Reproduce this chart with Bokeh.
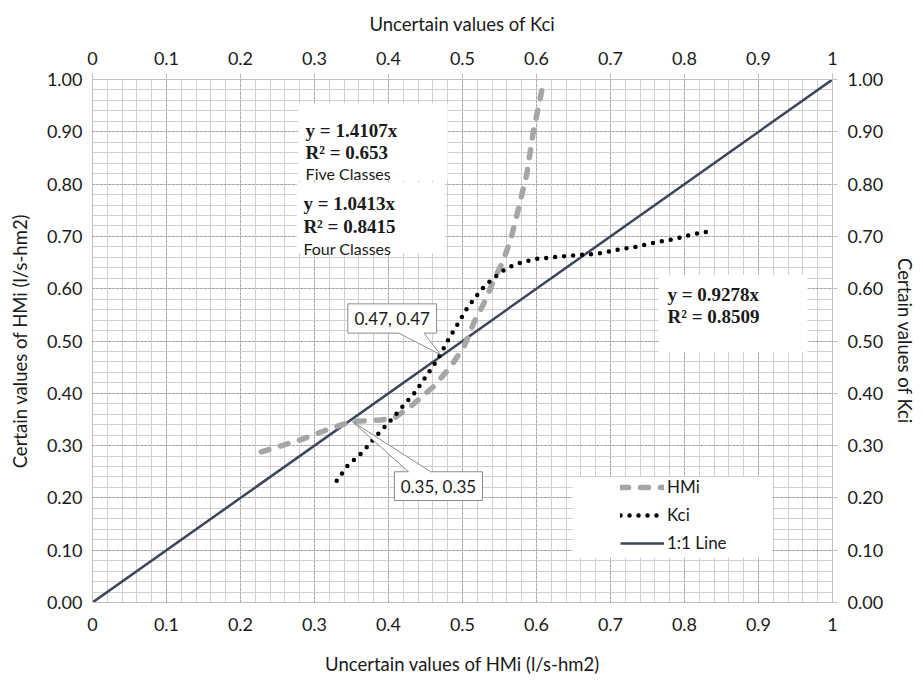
from bokeh.plotting import figure
from bokeh.models import (Range1d, LinearAxis, FixedTicker, NumeralTickFormatter,
                          Legend, LegendItem, ColumnDataSource)
from bokeh.core.properties import value
from bokeh.embed import file_html
from bokeh.resources import INLINE

# ---------------- data ----------------
hmi_x = [0.228, 0.281, 0.322, 0.351, 0.389, 0.407, 0.430, 0.461, 0.484, 0.502,
         0.515, 0.531, 0.542, 0.554, 0.565, 0.574, 0.587, 0.596, 0.603, 0.610]
hmi_y = [0.288, 0.311, 0.333, 0.346, 0.349, 0.352, 0.375, 0.413, 0.451, 0.489,
         0.534, 0.578, 0.616, 0.650, 0.693, 0.744, 0.820, 0.903, 0.950, 1.000]

kci_x = [0.330, 0.345, 0.366, 0.385, 0.401, 0.418, 0.436, 0.451, 0.467, 0.479,
         0.493, 0.506, 0.522, 0.531, 0.542, 0.551, 0.563, 0.575, 0.587, 0.600,
         0.628, 0.655, 0.682, 0.708, 0.734, 0.760, 0.786, 0.812, 0.838]
kci_y = [0.233, 0.262, 0.289, 0.321, 0.345, 0.373, 0.402, 0.433, 0.466, 0.498,
         0.531, 0.562, 0.592, 0.607, 0.620, 0.631, 0.641, 0.648, 0.653, 0.657,
         0.661, 0.664, 0.667, 0.674, 0.680, 0.688, 0.695, 0.704, 0.711]

one_x = [0.0, 1.0]
one_y = [0.0, 1.0]

x_ticks = [0.0, 0.1, 0.2, 0.3, 0.4, 0.5, 0.6, 0.7, 0.8, 0.9, 1.0]
x_tick_labels = ["0", "0.1", "0.2", "0.3", "0.4", "0.5", "0.6", "0.7", "0.8", "0.9", "1"]
y_ticks = [0.0, 0.1, 0.2, 0.3, 0.4, 0.5, 0.6, 0.7, 0.8, 0.9, 1.0]
minor_ticks = [i / 50 for i in range(51)]

series_names = ["HMi", "Kci", "1:1 Line"]

callout_x = [0.47, 0.35]
callout_y = [0.47, 0.35]
callout_text = ["0.47, 0.47", "0.35, 0.35"]

eq_text = ["y = 1.4107x", "R\u00b2 = 0.653", "y = 1.0413x", "R\u00b2 = 0.8415",
           "y = 0.9278x", "R\u00b2 = 0.8509"]
class_text = ["Five Classes", "Four Classes"]

x_title_bottom = "Uncertain values of HMi (l/s-hm2)"
x_title_top = "Uncertain values of Kci"
y_title_left = "Certain values of HMi (l/s-hm2)"
y_title_right = "Certain values of Kci"

# ---------------- styling ----------------
FONT = "Lato"
TXT = "#1a1a1a"
AXC = "#bfbfbf"

p = figure(width=923, height=680, output_backend="svg", toolbar_location=None,
           x_range=Range1d(0, 1), y_range=Range1d(0, 1),
           min_border_left=92, min_border_right=91, min_border_top=79,
           min_border_bottom=78)
p.outline_line_color = None
p.background_fill_color = "white"


def style_axis(ax, title, tick_out=0, label_standoff=10, title_standoff=20):
    ax.axis_label = title
    ax.axis_label_text_font = FONT
    ax.axis_label_text_font_size = "18.5px"
    ax.axis_label_text_font_style = "normal"
    ax.axis_label_text_color = TXT
    ax.axis_label_standoff = title_standoff
    ax.major_label_text_font = FONT
    ax.major_label_text_font_size = "18px"
    ax.major_label_text_color = TXT
    ax.major_label_standoff = label_standoff
    ax.axis_line_color = AXC
    ax.major_tick_line_color = AXC
    ax.major_tick_out = tick_out
    ax.major_tick_in = 0
    ax.minor_tick_out = 0
    ax.minor_tick_in = 0


xt = FixedTicker(ticks=x_ticks, minor_ticks=minor_ticks)
yt = FixedTicker(ticks=y_ticks, minor_ticks=minor_ticks)
x_over = {t: l for t, l in zip(x_ticks, x_tick_labels)}

xb = p.xaxis[0]
xb.ticker = xt
xb.major_label_overrides = x_over
style_axis(xb, x_title_bottom, tick_out=0, label_standoff=15, title_standoff=19)

yl = p.yaxis[0]
yl.ticker = yt
yl.formatter = NumeralTickFormatter(format="0.00")
style_axis(yl, y_title_left, tick_out=0, label_standoff=10, title_standoff=13)

xtop = LinearAxis(ticker=FixedTicker(ticks=x_ticks), major_label_overrides=x_over)
style_axis(xtop, x_title_top, tick_out=6, label_standoff=9, title_standoff=14)
p.add_layout(xtop, "above")

yr = LinearAxis(ticker=FixedTicker(ticks=y_ticks), formatter=NumeralTickFormatter(format="0.00"))
style_axis(yr, y_title_right, tick_out=5, label_standoff=10, title_standoff=8)
p.add_layout(yr, "right")

for g in (p.xgrid[0], p.ygrid[0]):
    g.grid_line_color = "#9a9a9a"
    g.grid_line_dash = "2 2"
    g.grid_line_width = 1
    g.minor_grid_line_color = "#d0d0d0"
    g.minor_grid_line_width = 1

# ---------------- text boxes (white backgrounds) ----------------
box_src = ColumnDataSource(dict(
    left=[0.278, 0.276, 0.765, 0.649],
    right=[0.480, 0.477, 0.966, 0.919],
    top=[0.954, 0.803, 0.626, 0.240],
    bottom=[0.807, 0.668, 0.479, 0.086],
))
p.quad(left="left", right="right", top="top", bottom="bottom", source=box_src,
       fill_color="white", line_color=None)

# ---------------- series ----------------
r_one = p.line(one_x, one_y, line_color="#3b4659", line_width=2.5)
r_hmi = p.line(hmi_x, hmi_y, line_color="#a6a6a6", line_width=5.5,
               line_dash="8 12", line_cap="round", line_join="round")
r_kci = p.line(kci_x, kci_y, line_color="black", line_width=4.5,
               line_dash="0 9", line_cap="round", line_join="round")

# ---------------- callouts ----------------
cx1, cy1 = callout_x[0], callout_y[0]
c1x = [cx1 - 0.125, cx1 - 0.005, cx1 - 0.005, cx1 - 0.022, cx1, cx1 - 0.056, cx1 - 0.125]
c1y = [cy1 + 0.101, cy1 + 0.101, cy1 + 0.045, cy1 + 0.045, cy1 + 0.004, cy1 + 0.045, cy1 + 0.045]
cx2, cy2 = callout_x[1], callout_y[1]
c2x = [cx2 + 0.058, cx2 + 0.077, cx2 + 0.001, cx2 + 0.107, cx2 + 0.177, cx2 + 0.177, cx2 + 0.058]
c2y = [cy2 - 0.100, cy2 - 0.100, cy2 - 0.004, cy2 - 0.100, cy2 - 0.100, cy2 - 0.155, cy2 - 0.155]
p.patches(xs=[c1x, c2x], ys=[c1y, c2y], fill_color="white", line_color="#8c8c8c",
          line_width=1)
p.text(x=[cx1 - 0.065, cx2 + 0.1175], y=[cy1 + 0.073, cy2 - 0.1275], text=callout_text,
       text_font=value(FONT), text_font_size="17px", text_color=TXT,
       text_align="center", text_baseline="middle")

# ---------------- equations ----------------
p.text(x=[0.288, 0.288, 0.285, 0.285, 0.777, 0.777],
       y=[0.903, 0.861, 0.763, 0.718, 0.588, 0.546], text=eq_text,
       text_font=value("Liberation Serif"), text_font_style="bold",
       text_font_size="19px", text_color=TXT, text_align="left", text_baseline="middle")
p.text(x=[0.288, 0.285], y=[0.821, 0.677], text=class_text,
       text_font=value(FONT), text_font_size="16px", text_color=TXT,
       text_align="left", text_baseline="middle")

# ---------------- legend ----------------
legend = Legend(items=[LegendItem(label=series_names[0], renderers=[r_hmi]),
                       LegendItem(label=series_names[1], renderers=[r_kci]),
                       LegendItem(label=series_names[2], renderers=[r_one])],
                location=(528, 49), orientation="vertical",
                glyph_width=44, glyph_height=20, label_height=20, spacing=7,
                label_standoff=3, padding=0, margin=0,
                label_text_font=FONT, label_text_font_size="17px", label_text_color=TXT,
                background_fill_alpha=0, border_line_alpha=0)
p.add_layout(legend, "center")

open("out.html", "w").write(file_html(p, INLINE))
